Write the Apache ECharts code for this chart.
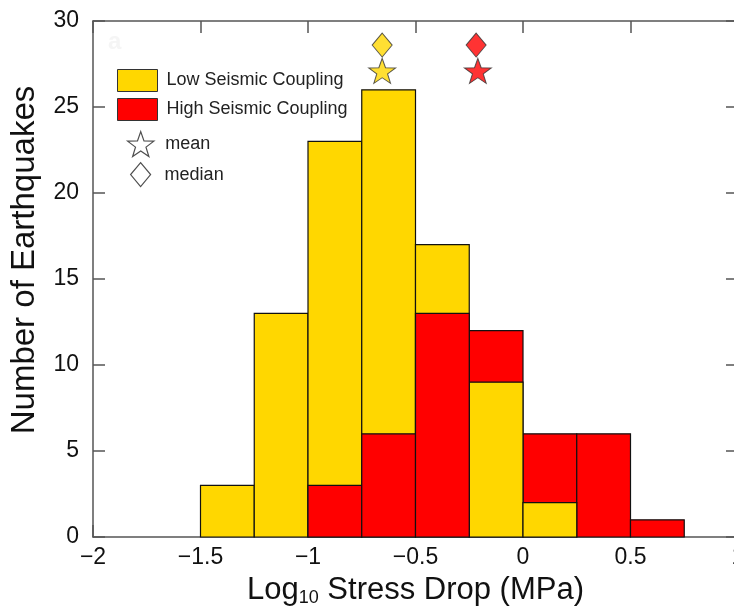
<!DOCTYPE html>
<html>
<head>
<meta charset="utf-8">
<script src="https://cdn.jsdelivr.net/npm/echarts@6/dist/echarts.min.js"></script>
<style>
  html, body { margin: 0; padding: 0; background: #fff; }
  #chart { width: 734px; height: 612px; }
</style>
</head>
<body>
<div id="chart"></div>
<script>
// histogram bins (left edges), width 0.25
const binStarts = [-1.5, -1.25, -1.0, -0.75, -0.5, -0.25, 0.0, 0.25, 0.5];
const binWidth = 0.25;
const lowCounts = [3, 13, 23, 26, 17, 9, 2, 0, 0];
const highCounts = [0, 0, 3, 6, 13, 12, 6, 6, 1];

// mean / median markers: [low, high]
const meanX = [-0.655, -0.21];
const meanY = [27.1, 27.1];
const medianX = [-0.655, -0.218];
const medianY = [28.6, 28.6];

const xTicks = [-2, -1.5, -1, -0.5, 0, 0.5, 1];
const yTicks = [0, 5, 10, 15, 20, 25, 30];

const YELLOW = '#FFD700';
const RED = '#FF0000';
const FONT = 'Liberation Sans';

const chart = echarts.init(document.getElementById('chart'));

// five point star as a path
const starPath = (() => {
  const pts = [];
  for (let i = 0; i < 10; i++) {
    const r = i % 2 === 0 ? 1 : 0.4;
    const a = (-90 + i * 36) * Math.PI / 180;
    pts.push((r * Math.cos(a)).toFixed(3) + ',' + (r * Math.sin(a)).toFixed(3));
  }
  return 'path://M' + pts.join(' L') + ' Z';
})();

const binData = (own, other) => binStarts.map((s, i) => [s, s + binWidth, own[i], other[i]]);

const renderBin = color => (params, api) => {
  const count = api.value(2);
  if (!count) return null;
  const p0 = api.coord([api.value(0), count]);
  const p1 = api.coord([api.value(1), 0]);
  return {
    type: 'rect',
    shape: { x: p0[0], y: p0[1], width: p1[0] - p0[0], height: p1[1] - p0[1] },
    z2: count <= api.value(3) ? 20 : 10, // smaller bar drawn in front
    style: { fill: color, stroke: '#111', lineWidth: 1.2 }
  };
};

const axisLine = { show: true, onZero: false, lineStyle: { color: '#555', width: 1.5 } };
const axisTick = { show: true, inside: true, length: 12, lineStyle: { color: '#555', width: 1.5 } };

chart.setOption({
  animation: false,
  textStyle: { fontFamily: FONT },
  grid: { left: 93, top: 21, width: 645, height: 516, containLabel: false, outerBoundsMode: 'none' },
  graphic: [{
    type: 'text', left: 108, top: 30,
    style: { text: 'a', fill: '#f5f5f5', font: 'bold 24px ' + FONT }
  }],
  legend: [{
    left: 117, top: 69, padding: 0, orient: 'vertical',
    itemWidth: 40, itemHeight: 22, itemGap: 6, selectedMode: false,
    textStyle: { fontSize: 18, color: '#222', padding: [0, 0, 0, 4] },
    data: [
      { name: 'Low Seismic Coupling', icon: 'rect', itemStyle: { color: YELLOW, borderColor: '#333', borderWidth: 1 } },
      { name: 'High Seismic Coupling', icon: 'rect', itemStyle: { color: RED, borderColor: '#333', borderWidth: 1 } }
    ]
  }, {
    left: 127, top: 131, padding: 0, orient: 'vertical',
    itemWidth: 27, itemHeight: 25, selectedMode: false,
    textStyle: { fontSize: 18, color: '#222', padding: [0, 0, 0, 6] },
    data: [{ name: 'mean', icon: starPath, itemStyle: { color: '#fff', borderColor: '#222', borderWidth: 1.2 } }]
  }, {
    left: 130, top: 162, padding: 0, orient: 'vertical',
    itemWidth: 20, itemHeight: 24, selectedMode: false,
    textStyle: { fontSize: 18, color: '#222', padding: [0, 0, 0, 9] },
    data: [{ name: 'median', icon: 'diamond', itemStyle: { color: '#fff', borderColor: '#222', borderWidth: 1.2 } }]
  }],
  xAxis: [{
    type: 'value', min: xTicks[0], max: xTicks[xTicks.length - 1], interval: 0.5,
    axisLine, axisTick, splitLine: { show: false },
    axisLabel: {
      fontSize: 23, color: '#111', margin: 9, showMinLabel: true, showMaxLabel: true,
      formatter: v => String(v).replace('-', '\u2212')
    },
    name: 'Log{sub|10} Stress Drop (MPa)',
    nameLocation: 'middle', nameGap: 36,
    nameTextStyle: {
      fontSize: 31, color: '#111',
      rich: { sub: { fontSize: 18, color: '#111', padding: [16, 0, 0, 0], verticalAlign: 'bottom' } }
    }
  }, {
    type: 'value', position: 'top', min: xTicks[0], max: xTicks[xTicks.length - 1], interval: 0.5,
    axisLine, axisTick, splitLine: { show: false }, axisLabel: { show: false }
  }],
  yAxis: [{
    type: 'value', min: yTicks[0], max: yTicks[yTicks.length - 1], interval: 5,
    axisLine, axisTick, splitLine: { show: false },
    axisLabel: { fontSize: 23, color: '#111', margin: 14 },
    name: 'Number of Earthquakes', nameLocation: 'middle', nameGap: 52,
    nameTextStyle: { fontSize: 33, color: '#111', padding: [0, 0, 0, 38] }
  }, {
    type: 'value', position: 'right', min: yTicks[0], max: yTicks[yTicks.length - 1], interval: 5,
    axisLine, axisTick, splitLine: { show: false }, axisLabel: { show: false }
  }],
  series: [{
    name: 'Low Seismic Coupling', type: 'custom', silent: true,
    itemStyle: { color: YELLOW },
    encode: { x: [0, 1], y: 2 },
    renderItem: renderBin(YELLOW),
    data: binData(lowCounts, highCounts)
  }, {
    name: 'High Seismic Coupling', type: 'custom', silent: true,
    itemStyle: { color: RED },
    encode: { x: [0, 1], y: 2 },
    renderItem: renderBin(RED),
    data: binData(highCounts, lowCounts)
  }, {
    name: 'mean', type: 'scatter', silent: true, z: 5,
    symbol: starPath, symbolSize: [27, 25],
    data: meanX.map((x, i) => ({
      value: [x, meanY[i]],
      itemStyle: { color: i === 0 ? YELLOW : RED, borderColor: '#333', borderWidth: 1 }
    }))
  }, {
    name: 'median', type: 'scatter', silent: true, z: 5,
    symbol: 'diamond', symbolSize: [20, 24],
    data: medianX.map((x, i) => ({
      value: [x, medianY[i]],
      itemStyle: { color: i === 0 ? YELLOW : RED, borderColor: '#333', borderWidth: 1 }
    }))
  }]
});
</script>
</body>
</html>
